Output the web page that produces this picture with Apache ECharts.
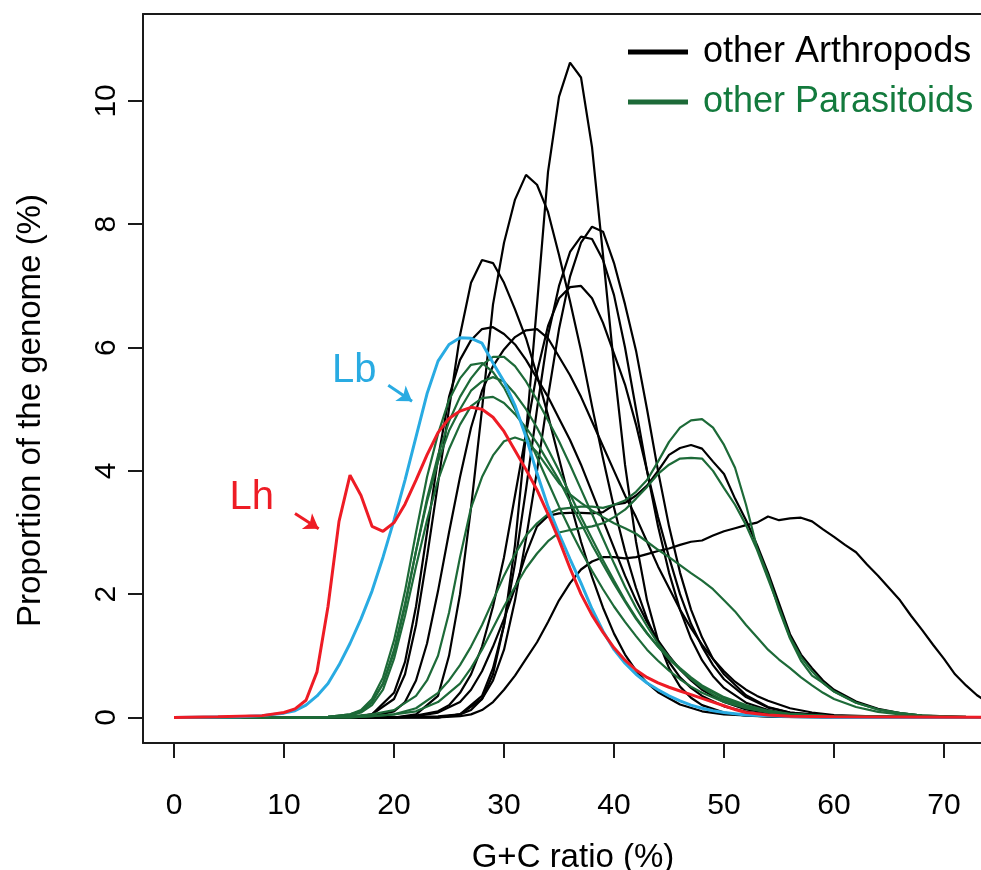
<!DOCTYPE html>
<html><head><meta charset="utf-8">
<script src="https://cdn.jsdelivr.net/npm/echarts@6/dist/echarts.min.js"></script>
<style>html,body{margin:0;padding:0;background:#fff}#c{width:981px;height:870px}</style>
</head><body><div id="c"></div>
<script>
// ---- tick labels ----
const xTicks = [0,10,20,30,40,50,60,70];
const yTicks = [0,2,4,6,8,10];

// ---- other Arthropods (G+C %, proportion %) ----
const arth1 = [[0,0],[20,0],[24,0.02],[26,0.05],[27,0.12],[28,0.3],[29,0.7],[30,1.5],[31,2.8],[32,4.6],[33,6.7],[34,8.85],[35,10.07],[36,10.62],[37,10.38],[38,9.25],[39,7.5],[40,5.7],[41,4.1],[42,2.85],[43,1.9],[44,1.25],[45,0.8],[46,0.5],[47,0.32],[48,0.2],[50,0.08],[52,0.03],[55,0.01],[60,0],[76,0]];
const arth2 = [[0,0],[20,0],[22,0.05],[24,0.35],[25,1.0],[26,2.0],[27,3.4],[28,5.0],[29,6.7],[30,7.7],[31,8.4],[32,8.8],[33,8.64],[34,8.2],[35,7.5],[36,6.75],[37,5.95],[38,5.05],[39,4.2],[40,3.4],[41,2.7],[42,2.1],[43,1.6],[44,1.2],[45,0.9],[46,0.65],[47,0.48],[48,0.35],[50,0.18],[52,0.09],[55,0.03],[60,0],[76,0]];
const arth3 = [[0,0],[16,0],[18,0.05],[20,0.3],[21,0.7],[22,1.5],[23,2.6],[24,3.8],[25,5.0],[26,6.2],[27,7.05],[28,7.42],[29,7.37],[30,7.05],[31,6.62],[32,6.15],[33,5.55],[34,4.9],[35,4.2],[36,3.5],[37,2.85],[38,2.28],[39,1.78],[40,1.36],[41,1.02],[42,0.76],[43,0.56],[44,0.41],[46,0.21],[48,0.1],[50,0.05],[55,0.01],[76,0]];
const arth4 = [[0,0],[24,0],[26,0.05],[28,0.3],[29,0.6],[30,1.1],[31,1.9],[32,2.9],[33,4.0],[34,5.2],[35,6.3],[36,7.15],[37,7.7],[38,7.96],[39,7.88],[40,7.37],[41,6.7],[42,5.95],[43,5.0],[44,4.0],[45,3.1],[46,2.35],[47,1.75],[48,1.3],[49,0.95],[50,0.7],[52,0.36],[54,0.17],[56,0.08],[60,0.02],[76,0]];
const arth5 = [[0,0],[24,0],[26,0.05],[28,0.35],[29,0.8],[30,1.5],[31,2.5],[32,3.7],[33,5.0],[34,6.2],[35,7.0],[36,7.55],[37,7.8],[38,7.76],[39,7.42],[40,6.85],[41,6.0],[42,5.0],[43,4.0],[44,3.1],[45,2.35],[46,1.75],[47,1.28],[48,0.93],[49,0.67],[50,0.48],[52,0.24],[54,0.12],[56,0.05],[60,0.01],[76,0]];
const arth6 = [[0,0],[20,0],[22,0.03],[24,0.1],[25,0.2],[26,0.4],[27,0.7],[28,1.15],[29,1.8],[30,2.6],[31,3.6],[32,4.6],[33,5.6],[34,6.35],[35,6.8],[36,6.98],[37,7.0],[38,6.8],[39,6.4],[40,5.9],[41,5.4],[42,4.75],[43,4.0],[44,3.25],[45,2.6],[46,2.0],[47,1.52],[48,1.15],[49,0.85],[50,0.62],[52,0.33],[54,0.16],[56,0.08],[60,0.02],[76,0]];
const arth7 = [[0,0],[16,0],[18,0.05],[20,0.4],[21,0.9],[22,1.8],[23,3.0],[24,4.2],[25,5.2],[26,5.8],[27,6.12],[28,6.3],[29,6.33],[30,6.22],[31,6.05],[32,5.8],[33,5.5],[34,5.2],[35,4.85],[36,4.5],[37,4.1],[38,3.65],[39,3.2],[40,2.75],[41,2.3],[42,1.9],[43,1.55],[44,1.25],[45,1.0],[46,0.78],[47,0.6],[48,0.45],[50,0.25],[52,0.13],[55,0.05],[60,0.01],[76,0]];
const arth8 = [[0,0],[16,0],[18,0.02],[20,0.1],[21,0.25],[22,0.6],[23,1.2],[24,2.05],[25,3.0],[26,3.9],[27,4.7],[28,5.3],[29,5.7],[30,5.97],[31,6.17],[32,6.28],[33,6.3],[34,6.15],[35,5.85],[36,5.55],[37,5.2],[38,4.8],[39,4.4],[40,4.0],[41,3.6],[42,3.25],[43,2.85],[44,2.45],[45,2.1],[46,1.75],[47,1.45],[48,1.18],[49,0.95],[50,0.75],[51,0.58],[52,0.45],[53,0.35],[54,0.27],[56,0.15],[58,0.08],[60,0.04],[65,0.01],[76,0]];
const arth9 = [[0,0],[20,0],[22,0.02],[24,0.08],[26,0.25],[27,0.45],[28,0.75],[29,1.15],[30,1.6],[31,2.1],[32,2.65],[33,3.1],[34,3.27],[35,3.31],[36,3.32],[37,3.32],[38,3.31],[39,3.33],[40,3.45],[41,3.48],[42,3.6],[43,3.76],[44,4.0],[45,4.26],[46,4.37],[47,4.42],[48,4.36],[49,4.15],[50,3.95],[51,3.55],[52,3.2],[53,2.8],[54,2.35],[55,1.85],[56,1.35],[57,1.02],[58,0.8],[59,0.6],[60,0.45],[62,0.26],[64,0.14],[66,0.07],[68,0.03],[72,0.01],[76,0]];
const arth10 = [[0,0],[24,0],[26,0.02],[27,0.05],[28,0.12],[29,0.25],[30,0.45],[31,0.68],[32,0.95],[33,1.22],[34,1.55],[35,1.9],[36,2.18],[37,2.4],[38,2.53],[39,2.6],[40,2.6],[41,2.58],[42,2.6],[43,2.65],[44,2.7],[45,2.74],[46,2.8],[47,2.85],[48,2.87],[49,2.95],[50,3.02],[51,3.07],[52,3.12],[53,3.16],[54,3.26],[55,3.2],[56,3.23],[57,3.24],[58,3.18],[59,3.05],[60,2.93],[61,2.8],[62,2.68],[63,2.48],[64,2.3],[65,2.1],[66,1.9],[67,1.65],[68,1.42],[69,1.18],[70,0.95],[71,0.7],[72,0.52],[73,0.36],[74,0.24],[75,0.16],[76,0.1]];

// ---- other Parasitoids ----
const para1 = [[0,0],[12,0],[14,0.01],[16,0.05],[17,0.1],[18,0.25],[19,0.55],[20,1.05],[21,1.8],[22,2.7],[23,3.55],[24,4.25],[25,4.8],[26,5.2],[27,5.5],[28,5.72],[29,5.85],[30,5.85],[31,5.7],[32,5.45],[33,5.15],[34,4.82],[35,4.48],[36,4.1],[37,3.7],[38,3.3],[39,2.9],[40,2.5],[41,2.12],[42,1.78],[43,1.48],[44,1.2],[45,0.98],[46,0.78],[47,0.62],[48,0.48],[49,0.37],[50,0.28],[52,0.16],[54,0.09],[56,0.05],[60,0.02],[65,0.01],[76,0]];
const para2 = [[0,0],[12,0],[14,0.01],[16,0.05],[17,0.12],[18,0.3],[19,0.65],[20,1.25],[21,2.05],[22,3.0],[23,3.9],[24,4.6],[25,5.15],[26,5.5],[27,5.72],[28,5.75],[29,5.6],[30,5.35],[31,5.0],[32,4.62],[33,4.22],[34,3.82],[35,3.42],[36,3.05],[37,2.7],[38,2.38],[39,2.08],[40,1.8],[41,1.55],[42,1.32],[43,1.1],[44,0.92],[45,0.76],[46,0.62],[47,0.5],[48,0.4],[50,0.25],[52,0.15],[54,0.08],[56,0.05],[60,0.02],[76,0]];
const para3 = [[0,0],[12,0],[14,0.01],[16,0.04],[17,0.1],[18,0.25],[19,0.55],[20,1.1],[21,1.85],[22,2.7],[23,3.5],[24,4.15],[25,4.65],[26,5.0],[27,5.3],[28,5.45],[29,5.52],[30,5.45],[31,5.25],[32,5.0],[33,4.7],[34,4.35],[35,4.0],[36,3.62],[37,3.25],[38,2.9],[39,2.55],[40,2.22],[41,1.9],[42,1.62],[43,1.37],[44,1.15],[45,0.95],[46,0.78],[47,0.63],[48,0.5],[50,0.31],[52,0.18],[54,0.1],[56,0.05],[60,0.02],[76,0]];
const para4 = [[0,0],[12,0],[14,0.01],[16,0.03],[17,0.08],[18,0.2],[19,0.45],[20,0.95],[21,1.65],[22,2.45],[23,3.2],[24,3.85],[25,4.35],[26,4.75],[27,5.05],[28,5.18],[29,5.2],[30,5.1],[31,4.92],[32,4.7],[33,4.45],[34,4.15],[35,3.85],[36,3.5],[37,3.15],[38,2.8],[39,2.48],[40,2.17],[41,1.88],[42,1.6],[43,1.36],[44,1.15],[45,0.96],[46,0.8],[47,0.65],[48,0.52],[50,0.33],[52,0.2],[54,0.11],[56,0.06],[60,0.02],[76,0]];
const para5 = [[0,0],[14,0],[16,0.02],[18,0.05],[20,0.12],[22,0.35],[23,0.6],[24,1.0],[25,1.7],[26,2.6],[27,3.4],[28,3.9],[29,4.25],[30,4.48],[31,4.54],[32,4.48],[33,4.3],[34,4.05],[35,3.8],[36,3.62],[37,3.48],[38,3.36],[39,3.25],[40,3.15],[41,3.07],[42,2.98],[43,2.85],[44,2.72],[45,2.6],[46,2.47],[47,2.34],[48,2.22],[49,2.08],[50,1.9],[51,1.72],[52,1.5],[53,1.3],[54,1.1],[55,0.94],[56,0.8],[57,0.65],[58,0.52],[59,0.4],[60,0.3],[62,0.17],[64,0.09],[66,0.05],[70,0.01],[76,0]];
const para6 = [[0,0],[16,0],[18,0.02],[20,0.05],[22,0.15],[24,0.4],[25,0.6],[26,0.85],[27,1.15],[28,1.5],[29,1.9],[30,2.3],[31,2.65],[32,2.95],[33,3.15],[34,3.3],[35,3.38],[36,3.4],[37,3.42],[38,3.42],[39,3.4],[40,3.45],[41,3.52],[42,3.66],[43,3.85],[44,4.15],[45,4.47],[46,4.7],[47,4.82],[48,4.84],[49,4.7],[50,4.42],[51,4.05],[52,3.45],[53,2.75],[54,2.3],[55,1.75],[56,1.28],[57,0.92],[58,0.68],[59,0.56],[60,0.42],[62,0.24],[64,0.13],[66,0.07],[68,0.03],[72,0.01],[76,0]];
const para7 = [[0,0],[16,0],[18,0.02],[20,0.05],[22,0.1],[24,0.25],[26,0.55],[27,0.8],[28,1.1],[29,1.45],[30,1.8],[31,2.12],[32,2.42],[33,2.66],[34,2.86],[35,3.0],[36,3.04],[37,3.07],[38,3.1],[39,3.15],[40,3.25],[41,3.37],[42,3.55],[43,3.74],[44,3.95],[45,4.1],[46,4.2],[47,4.21],[48,4.2],[49,4.0],[50,3.72],[51,3.45],[52,3.12],[53,2.72],[54,2.25],[55,1.78],[56,1.3],[57,0.98],[58,0.75],[59,0.56],[60,0.42],[62,0.24],[64,0.13],[66,0.07],[68,0.03],[72,0],[76,0]];

// ---- Lb and Lh ----
const lb = [[0,0],[6,0.01],[8,0.03],[10,0.07],[11,0.11],[12,0.2],[13,0.35],[14,0.55],[15,0.85],[16,1.2],[17,1.6],[18,2.05],[19,2.6],[20,3.2],[21,3.85],[22,4.55],[23,5.25],[24,5.78],[25,6.05],[26,6.16],[27,6.15],[28,6.07],[29,5.75],[30,5.45],[31,5.06],[32,4.55],[33,3.96],[34,3.42],[35,2.98],[36,2.57],[37,2.18],[38,1.76],[39,1.4],[40,1.1],[41,0.88],[42,0.7],[43,0.56],[44,0.45],[45,0.35],[46,0.27],[47,0.2],[48,0.15],[49,0.11],[50,0.08],[52,0.04],[55,0.02],[60,0],[76,0]];
const lh = [[0,0],[4,0.01],[8,0.03],[10,0.08],[11,0.14],[12,0.28],[13,0.74],[14,1.8],[15,3.18],[16,3.93],[17,3.6],[18,3.1],[19,3.02],[20,3.16],[21,3.46],[22,3.85],[23,4.26],[24,4.62],[25,4.85],[26,4.97],[27,5.03],[28,5.0],[29,4.87],[30,4.64],[31,4.33],[32,4.02],[33,3.69],[34,3.3],[35,2.88],[36,2.42],[37,2.0],[38,1.66],[39,1.38],[40,1.13],[41,0.93],[42,0.77],[43,0.65],[44,0.56],[45,0.49],[46,0.43],[47,0.37],[48,0.31],[49,0.25],[50,0.19],[51,0.13],[52,0.08],[54,0.04],[56,0.02],[60,0.01],[76,0]];

// ---- annotations (data coordinates) ----
const lbArrow = [[19.48,5.39],[21.64,5.13]];
const lhArrow = [[11.0,3.31],[13.15,3.06]];
const lbText = [16.39,5.62];
const lhText = [7.06,3.56];

const arthropods = [arth1,arth2,arth3,arth4,arth5,arth6,arth7,arth8,arth9,arth10];
const parasitoids = [para1,para2,para3,para4,para5,para6,para7];

const FONT = 'Liberation Sans, Arial, sans-serif';
const BLACK = '#000000', GREEN = '#1d6a38', GREEN_TXT = '#137a3d', BLUE = '#29abe2', RED = '#ee1c25';

function line(name, data, color, width, z) {
  return {type:'line', name, data, symbol:'none', showSymbol:false, clip:true, silent:true,
    lineStyle:{color, width}, itemStyle:{color}, z, animation:false};
}
function arrow(coords, color) {
  return {silent:true, symbol:['none','arrow'], symbolSize:14, animation:false,
    itemStyle:{color}, lineStyle:{color, width:3, type:'solid'}, label:{show:false},
    emphasis:{disabled:true},
    data:[[{coord:coords[0]},{coord:coords[1]}]]};
}
function tag(coord, text, color) {
  return {silent:true, symbol:'circle', symbolSize:1, itemStyle:{color:'rgba(0,0,0,0)'}, animation:false,
    label:{show:true, position:'inside', formatter:text, color, fontSize:40, fontFamily:FONT},
    data:[{coord}]};
}
const series = [];
arthropods.forEach(d => series.push(line('other Arthropods', d, BLACK, 2.2, 2)));
parasitoids.forEach(d => series.push(line('other Parasitoids', d, GREEN, 2.2, 3)));
const sLb = line('Lb', lb, BLUE, 3, 4);
sLb.markLine = arrow(lbArrow, BLUE);
sLb.markPoint = tag(lbText, 'Lb', BLUE);
const sLh = line('Lh', lh, RED, 3, 5);
sLh.markLine = arrow(lhArrow, RED);
sLh.markPoint = tag(lhText, 'Lh', RED);
series.push(sLb, sLh);

const axisLineStyle = {color:'#1a1a1a', width:2};
const chart = echarts.init(document.getElementById('c'), null, {renderer:'canvas'});
chart.setOption({
  animation:false,
  backgroundColor:'#ffffff',
  grid:{left:143, top:14, width:860, height:729, containLabel:false, outerBoundsMode:'none'},
  legend:{
    orient:'vertical', left:628, top:32, padding:0, itemWidth:60, itemHeight:5, itemGap:10, icon:'rect',
    selectedMode:false,
    textStyle:{fontSize:36, fontFamily:FONT, lineHeight:40, padding:[0,0,0,10]},
    data:[{name:'other Arthropods', textStyle:{color:BLACK}},
          {name:'other Parasitoids', textStyle:{color:GREEN_TXT}}]
  },
  xAxis:[{
    type:'value', min:-2.818, max:75.36, position:'bottom',
    axisLine:{show:true, onZero:false, lineStyle:axisLineStyle},
    axisTick:{show:true, length:15, lineStyle:axisLineStyle, customValues:xTicks},
    axisLabel:{customValues:xTicks, fontSize:30, color:'#000', margin:48, fontFamily:FONT},
    splitLine:{show:false},
    name:'G+C ratio (%)', nameLocation:'middle', nameGap:98,
    nameTextStyle:{fontSize:33, color:'#000', fontFamily:FONT}
  },{
    type:'value', min:-2.818, max:75.36, position:'top',
    axisLine:{show:true, onZero:false, lineStyle:axisLineStyle},
    axisTick:{show:false}, axisLabel:{show:false}, splitLine:{show:false}
  }],
  yAxis:{
    type:'value', min:-0.414, max:11.41,
    axisLine:{show:true, onZero:false, lineStyle:axisLineStyle},
    axisTick:{show:true, length:15, lineStyle:axisLineStyle, customValues:yTicks},
    axisLabel:{customValues:yTicks, rotate:90, fontSize:30, color:'#000', margin:21, fontFamily:FONT},
    splitLine:{show:false},
    name:'Proportion of the genome (%)', nameLocation:'middle', nameGap:96,
    nameTextStyle:{fontSize:33, color:'#000', fontFamily:FONT, padding:[0,64,0,0]}
  },
  series
});
</script></body></html>
